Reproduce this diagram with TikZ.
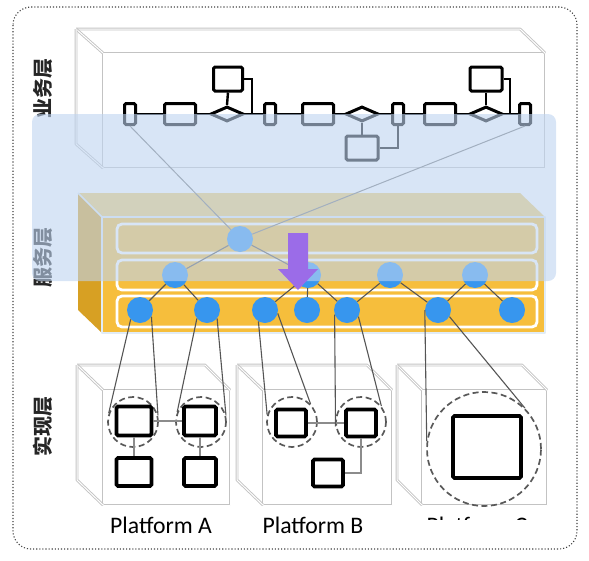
\documentclass[tikz,border=0pt]{standalone}
\usepackage{fontspec}
\newfontfamily\cjkfont{Noto Sans CJK SC}
\newfontfamily\platfont{Carlito}
\usepackage{tikz}
\usetikzlibrary{shapes.geometric,positioning}
\usepackage{xcolor}
\definecolor{edgegrey}{RGB}{85,85,85}
\definecolor{linkgrey}{RGB}{120,120,120}
\definecolor{boxline}{RGB}{195,195,195}
\definecolor{svcfront}{RGB}{246,190,60}
\definecolor{svcside}{RGB}{215,160,35}
\definecolor{svctop}{RGB}{240,205,110}
\definecolor{svcedge}{RGB}{225,236,246}
\definecolor{nodeblue}{RGB}{55,150,238}
\definecolor{veilblue}{RGB}{190,212,240}
\definecolor{arrowpurple}{RGB}{155,108,232}

\begin{document}
\begin{tikzpicture}[x=1pt, y=-1pt,
    cube/.style={draw=boxline, double=white, double distance=1pt, line width=0.9pt, line join=round},
    task/.style={rectangle, draw=black, line width=3pt, rounded corners=1.5pt, fill=white, inner sep=0pt},
    tall/.style={task, minimum width=11pt, minimum height=21pt},
    wide/.style={task, minimum width=31pt, minimum height=21pt},
    gate/.style={diamond, draw=black, line width=3pt, fill=white, inner sep=0pt,
                 minimum width=33pt, minimum height=15pt},
    flow/.style={black, line width=2.4pt},
    lane/.style={draw=white, line width=2.8pt, rounded corners=5pt},
    svc/.style={circle, fill=nodeblue, inner sep=0pt, minimum size=26pt},
    link/.style={edgegrey, line width=1.1pt},
    unit/.style={rectangle, draw=black, line width=3.6pt, rounded corners=1.5pt, fill=white, inner sep=0pt},
    zone/.style={circle, draw=black!65, dash pattern=on 6pt off 3.5pt, line width=1.7pt, inner sep=0pt},
    wire/.style={black!45, line width=2.2pt},
    layer/.style={rotate=90, font=\cjkfont\bfseries\fontsize{20}{20}\selectfont, text=black!85},
    plat/.style={anchor=base, font=\platfont\fontsize{23.7}{24}\selectfont},
]
    \useasboundingbox (0,0) rectangle (589,560);

    % Frame
    \draw[black!75, dotted, line width=1.1pt, rounded corners=18pt] (13,7) rectangle (577,549);

    % Business layer box
    \draw[cube] (103,53) rectangle (545,168);
    \draw[cube] (76,29) -- (520,29) -- (545,53);
    \draw[cube] (76,29) -- (103,53);
    \draw[cube] (76,29) -- (76,144) -- (103,168);

    % Business process
    \node[tall] (biz1) at (130,114) {};
    \node[wide] (biz2) at (180,114) {};
    \node[gate] (gate1) at (227,114) {};
    \node[task, minimum width=29pt, minimum height=24pt] (sub1) at (228,79) {};
    \node[tall] (biz3) at (270,114) {};
    \node[wide] (biz4) at (318,114) {};
    \node[gate] (gate2) at (362,114) {};
    \node[task, minimum width=32pt, minimum height=24pt] (sub2) at (362,148) {};
    \node[tall] (biz5) at (398,114) {};
    \node[wide] (biz6) at (440,114) {};
    \node[gate] (gate3) at (486,114) {};
    \node[task, minimum width=32pt, minimum height=24pt] (sub3) at (486,79) {};
    \node[tall] (biz7) at (525,114) {};
    \coordinate (j1) at (252,114);
    \coordinate (j3) at (510,114);
    \draw[flow] (biz1) -- (biz2) -- (gate1) -- (biz3) -- (biz4) -- (gate2) -- (biz5) -- (biz6) -- (gate3) -- (biz7);
    \draw[flow] (gate1.north) -- (sub1.south);
    \draw[flow] (sub1.east) -| (j1);
    \draw[flow] (gate2.south) -- (sub2.north);
    \draw[flow] (sub2.east) -| (biz5.south);
    \draw[flow] (gate3.north) -- (sub3.south);
    \draw[flow] (sub3.east) -| (j3);

    % Service layer box
    \fill[svctop] (78,193) -- (520,193) -- (545,217) -- (102,217) -- cycle;
    \fill[svcside] (78,193) -- (102,217) -- (102,333) -- (78,310) -- cycle;
    \fill[svcfront] (102,217) rectangle (545,333);
    \draw[svcedge, line width=2.5pt, line join=round] (102,217) rectangle (545,333);
    \draw[svcedge, line width=1.5pt] (78,193) -- (102,217);
    \draw[lane] (117,224) rectangle (537,253);
    \draw[lane] (117,260) rectangle (537,290);
    \draw[lane] (117,296) rectangle (537,327);

    % Services
    \node[svc] (top) at (240,239) {};
    \node[svc] (s21) at (175,275) {};
    \node[svc] (s22) at (308,275) {};
    \node[svc] (s23) at (390,275) {};
    \node[svc] (s24) at (475,275) {};
    \node[svc] (s31) at (140,310) {};
    \node[svc] (s32) at (207,310) {};
    \node[svc] (s33) at (265,310) {};
    \node[svc] (s34) at (307,310) {};
    \node[svc] (s35) at (347,310) {};
    \node[svc] (s36) at (438,310) {};
    \node[svc] (s37) at (512,310) {};
    \draw[linkgrey, line width=1pt] (biz1.south) -- (top);
    \draw[linkgrey, line width=1pt] (biz7.south) -- (top);
    \draw[link] (top) -- (s21);
    \draw[link] (top) -- (s22);
    \draw[link] (s21) -- (s31);
    \draw[link] (s21) -- (s32);
    \draw[link] (s22) -- (s33);
    \draw[link] (s22) -- (s34);
    \draw[link] (s22) -- (s35);
    \draw[link] (s23) -- (s35);
    \draw[link] (s23) -- (s36);
    \draw[link] (s24) -- (s36);
    \draw[link] (s24) -- (s37);

    % Layer names
    \node[layer] (lbiz) at (43,88) {业务层};
    \node[layer] (lsvc) at (43,257) {服务层};
    \node[layer] (limp) at (43,426) {实现层};

    % Blue veil
    \fill[veilblue, opacity=0.6, rounded corners=8pt] (32,114) rectangle (556,281);

    % Purple arrow
    \fill[arrowpurple] (288,233) -- (308,233) -- (308,269) -- (318,269) -- (298,290)
        -- (278,269) -- (288,269) -- cycle;

    % Platform boxes
    \foreach \bx/\fx/\rx in {77/103/230, 237/263/392, 397/422/547} {
        \draw[cube] (\fx,390) rectangle (\rx,505);
        \draw[cube] (\bx,365) -- (\rx-25,365) -- (\rx,390);
        \draw[cube] (\bx,365) -- (\fx,390);
        \draw[cube] (\bx,365) -- (\bx,480) -- (\fx,505);
    }

    % Platform A
    \node[zone, minimum size=50pt] (za1) at (133,422) {};
    \node[zone, minimum size=50pt] (za2) at (201,422) {};
    \node[unit, minimum width=35pt, minimum height=29pt] (a1) at (134,421) {};
    \node[unit, minimum width=32pt, minimum height=29pt] (a2) at (200,421) {};
    \node[unit, minimum width=35pt, minimum height=28pt] (a3) at (134,472) {};
    \node[unit, minimum width=32pt, minimum height=28pt] (a4) at (200,472) {};
    \draw[wire] (a1) -- (a2);
    \draw[wire] (a1) -- (a3);
    \draw[wire] (a2) -- (a4);

    % Platform B
    \node[zone, minimum size=50pt] (zb1) at (292,422) {};
    \node[zone, minimum size=50pt] (zb2) at (361,422) {};
    \node[unit, minimum width=30pt, minimum height=27pt] (b1) at (291,423) {};
    \node[unit, minimum width=30pt, minimum height=27pt] (b2) at (361,423) {};
    \node[unit, minimum width=30pt, minimum height=27pt] (b3) at (328,473) {};
    \draw[wire] (b1) -- (b2);
    \draw[wire] (b2.south) |- (b3.east);

    % Platform C
    \node[zone, minimum size=114pt] (zc) at (484,449) {};
    \node[unit, minimum width=68pt, minimum height=62pt] (c1) at (487,447) {};

    % Service to platform links
    \draw[link] (s31.225) -- (za1.160);
    \draw[link] (s31.330) -- (za1.15);
    \draw[link] (s32.220) -- (za2.157);
    \draw[link] (s32.320) -- (za2.15);
    \draw[link] (s33.240) -- (zb1.164);
    \draw[link] (s33.345) -- (zb1.44);
    \draw[link] (s35.200) -- (zb2.190);
    \draw[link] (s35.330) -- (zb2.38);
    \draw[link] (s36.180) -- (zc.172);
    \draw[link] (s36.330) -- (zc.45);

    % Platform names
    \node[plat] (pa) at (161,533) {Platform A};
    \node[plat] (pb) at (313,533) {Platform B};
    \begin{scope}
        \clip (395,505) rectangle (560,519.5);
        \node[plat] (pc) at (477,533) {Platform C};
    \end{scope}
\end{tikzpicture}
\end{document}
